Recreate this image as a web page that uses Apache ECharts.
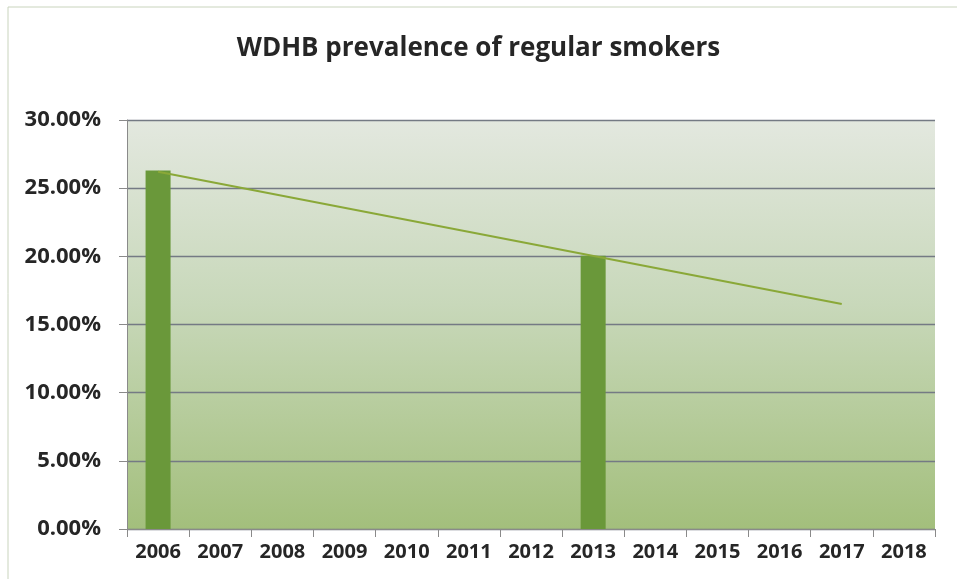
<!DOCTYPE html>
<html>
<head>
<meta charset="utf-8">
<script src="https://cdn.jsdelivr.net/npm/echarts@6/dist/echarts.min.js"></script>
<style>
  html, body { margin: 0; padding: 0; background: #fff; }
  #chart { width: 957px; height: 579px; }
</style>
</head>
<body>
<div id="chart"></div>
<script>
// years on the x axis
const years = ['2006', '2007', '2008', '2009', '2010', '2011', '2012', '2013', '2014', '2015', '2016', '2017', '2018'];
// prevalence (%) - only surveyed years have a value
const prevalence = [26.3, null, null, null, null, null, null, 20.05, null, null, null, null, null];
// linear trendline ends (2006 and 2017)
const trend = [26.2, null, null, null, null, null, null, null, null, null, null, 16.5, null];

const chart = echarts.init(document.getElementById('chart'));

const font = '"Open Sans", "Noto Sans", sans-serif';

chart.setOption({
  animation: false,
  title: {
    text: 'WDHB prevalence of regular smokers',
    left: 'center',
    top: 31,
    textStyle: { fontFamily: font, fontSize: 26, fontWeight: 'bold', color: '#262626' }
  },
  graphic: [{
    type: 'rect',
    shape: { x: 8, y: 7, width: 960, height: 600 },
    style: { fill: 'none', stroke: '#c9d4bd', lineWidth: 1 },
    silent: true
  }],
  grid: {
    left: 127, right: 22, top: 120, bottom: 50,
    show: true,
    borderWidth: 0,
    backgroundColor: new echarts.graphic.LinearGradient(0, 0, 0, 1, [
      { offset: 0, color: '#e3e8df' },
      { offset: 0.45, color: '#c8d8ba' },
      { offset: 1, color: '#a3bf7c' }
    ])
  },
  xAxis: {
    type: 'category',
    data: years,
    axisLine: { lineStyle: { color: '#8a8a8a', width: 1 } },
    axisTick: { show: true, length: 8, lineStyle: { color: '#8a8a8a' } },
    axisLabel: { fontFamily: font, fontSize: 20, fontWeight: 'bold', color: '#262626', margin: 13 }
  },
  yAxis: {
    type: 'value',
    min: 0, max: 30, interval: 5,
    axisLine: { show: true, lineStyle: { color: '#8a8a8a', width: 1 } },
    axisTick: { show: true, length: 8, lineStyle: { color: '#8a8a8a' } },
    axisLabel: {
      fontFamily: font, fontSize: 22, fontWeight: 'bold', color: '#262626', margin: 26,
      formatter: v => v.toFixed(2) + '%'
    },
    splitLine: { lineStyle: { color: '#747a84', width: 1.3 } }
  },
  series: [
    {
      type: 'bar',
      data: prevalence,
      barWidth: 25,
      itemStyle: { color: '#6a983a' },
      z: 2
    },
    {
      type: 'line',
      data: trend,
      connectNulls: true,
      showSymbol: false,
      symbol: 'none',
      lineStyle: { color: '#8aa838', width: 2 },
      z: 3
    }
  ]
});
</script>
</body>
</html>
